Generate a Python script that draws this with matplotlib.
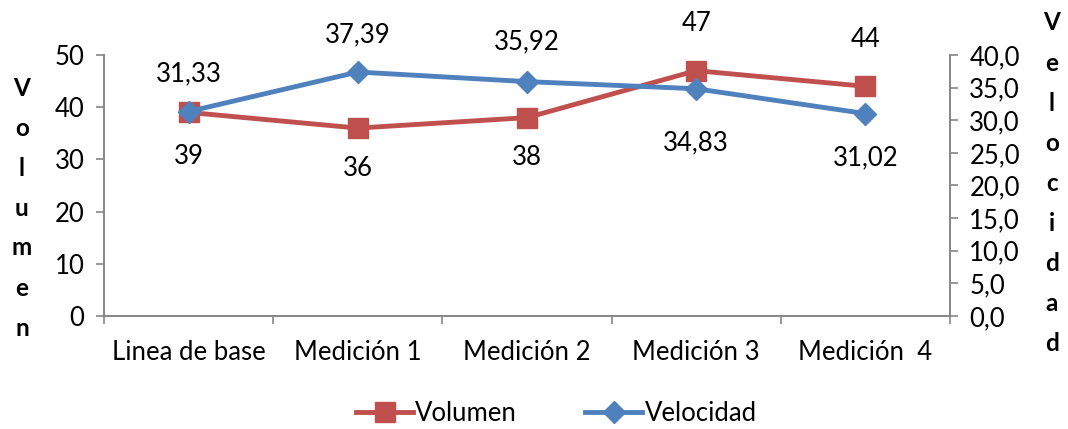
import matplotlib.pyplot as plt
from matplotlib.lines import Line2D

plt.rcParams['font.family'] = ['Lato', 'DejaVu Sans']

categorias = ['Linea de base', 'Medición 1', 'Medición 2', 'Medición 3', 'Medición  4']
volumen = [39, 36, 38, 47, 44]
velocidad = [31.33, 37.39, 35.92, 34.83, 31.02]

rojo = '#C0504D'
azul = '#4F81BD'
gris = '#868686'
fs = 18.5

fig = plt.figure(figsize=(10.68, 4.29), dpi=100)
ax = fig.add_axes([0.0974, 0.2634, 0.792, 0.6084])
ax2 = ax.twinx()

x = list(range(len(categorias)))
ax.plot(x, volumen, color=rojo, lw=3.5, marker='s', ms=14, zorder=3)
ax2.plot(x, velocidad, color=azul, lw=3.5, marker='D', ms=11, zorder=3)

# etiquetas de datos (desplazamiento vertical en puntos)
off_vol = [-32, -29, -29, 34, 34]
off_vel = [27, 27, 29, -39, -32]
for i, v in enumerate(volumen):
    ax.annotate(str(v), (x[i], v), xytext=(0, off_vol[i]), textcoords='offset points',
                ha='center', va='center', fontsize=fs)
for i, v in enumerate(velocidad):
    ax2.annotate(f'{v:.2f}'.replace('.', ','), (x[i], v), xytext=(0, off_vel[i]),
                 textcoords='offset points', ha='center', va='center', fontsize=fs)

ax.set_xlim(-0.5, len(categorias) - 0.5)
ax.set_ylim(0, 50)
ax2.set_ylim(0, 40)
ax.set_yticks(range(0, 51, 10))
ax2.set_yticks(range(0, 41, 5))
ax2.set_yticklabels([f'{t:.1f}'.replace('.', ',') for t in range(0, 41, 5)])

ax.set_xticks(x)
ax.set_xticklabels(categorias)
ax.set_xticks([i - 0.5 for i in range(len(categorias) + 1)], minor=True)
ax.tick_params(axis='x', which='major', length=0, pad=17, labelsize=fs)
ax.tick_params(axis='x', which='minor', length=6, color=gris, width=1.2)
ax.tick_params(axis='y', length=6, color=gris, width=1.2, labelsize=fs, pad=8)
ax2.tick_params(axis='y', length=6, color=gris, width=1.2, labelsize=fs, pad=8)

for a in (ax, ax2):
    a.spines['top'].set_visible(False)
    for s in ('left', 'right', 'bottom'):
        a.spines[s].set_color(gris)
        a.spines[s].set_linewidth(1.2)

# títulos de eje en vertical, letra por letra
for i, c in enumerate('Volumen'):
    fig.text(22 / 1068, 1 - (88 + i * 40) / 429, c, ha='center', va='center',
             fontsize=fs - 1, fontweight='bold')
for i, c in enumerate('Velocidad'):
    fig.text(1052 / 1068, 1 - (23 + i * 40.1) / 429, c, ha='center', va='center',
             fontsize=fs - 1, fontweight='bold')

handles = [Line2D([], [], color=rojo, lw=3.5, marker='s', ms=14),
           Line2D([], [], color=azul, lw=3.5, marker='D', ms=11)]
fig.legend(handles, ['Volumen', 'Velocidad'], loc='center', bbox_to_anchor=(0.521, 0.036),
           ncol=2, frameon=False, fontsize=fs, handlelength=2.2, handletextpad=0.1,
           columnspacing=2.65, borderpad=0.1)

fig.savefig('out.png', dpi=100)
